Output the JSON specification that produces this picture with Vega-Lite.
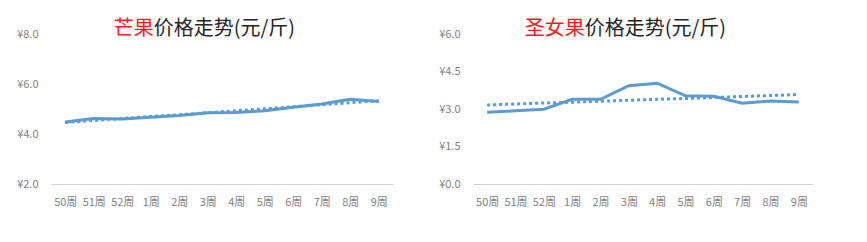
{
  "$schema": "https://vega.github.io/schema/vega-lite/v6.json",
  "background": "white",
  "padding": {"top": 19, "left": 16, "right": 5, "bottom": 5},
  "spacing": 45,
  "data": {"values": [
    {"week": "50周", "mango": 4.48, "mango_trend": 4.46, "tomato": 2.87, "tomato_trend": 3.16},
    {"week": "51周", "mango": 4.62, "mango_trend": 4.54, "tomato": 2.93, "tomato_trend": 3.20},
    {"week": "52周", "mango": 4.60, "mango_trend": 4.62, "tomato": 2.99, "tomato_trend": 3.24},
    {"week": "1周", "mango": 4.67, "mango_trend": 4.70, "tomato": 3.39, "tomato_trend": 3.27},
    {"week": "2周", "mango": 4.74, "mango_trend": 4.77, "tomato": 3.39, "tomato_trend": 3.31},
    {"week": "3周", "mango": 4.85, "mango_trend": 4.85, "tomato": 3.93, "tomato_trend": 3.35},
    {"week": "4周", "mango": 4.86, "mango_trend": 4.93, "tomato": 4.03, "tomato_trend": 3.39},
    {"week": "5周", "mango": 4.93, "mango_trend": 5.01, "tomato": 3.53, "tomato_trend": 3.42},
    {"week": "6周", "mango": 5.07, "mango_trend": 5.09, "tomato": 3.51, "tomato_trend": 3.46},
    {"week": "7周", "mango": 5.20, "mango_trend": 5.17, "tomato": 3.23, "tomato_trend": 3.50},
    {"week": "8周", "mango": 5.39, "mango_trend": 5.25, "tomato": 3.32, "tomato_trend": 3.54},
    {"week": "9周", "mango": 5.30, "mango_trend": 5.33, "tomato": 3.28, "tomato_trend": 3.58}
  ]},
  "hconcat": [
    {
      "width": 342,
      "height": 150,
      "title": {"text": "芒果", "subtitle": "\u200b\u3000\u3000价格走势(元/斤)", "anchor": "start", "frame": "bounds", "align": "left", "dx": 97},
      "encoding": {
        "x": {"field": "week", "type": "ordinal", "sort": null, "axis": {"title": null, "labelAngle": 0}}
      },
      "layer": [
        {"mark": {"type": "line", "color": "#5b9bd5", "strokeWidth": 3, "strokeDash": [3, 3]},
         "encoding": {"y": {"field": "mango_trend", "type": "quantitative", "scale": {"domain": [2, 8]},
           "axis": {"title": null, "values": [2, 4, 6, 8], "labelOverlap": false, "labelExpr": "'¥' + format(datum.value, '.1f')"}}}},
        {"mark": {"type": "line", "color": "#5b9bd5", "strokeWidth": 3},
         "encoding": {"y": {"field": "mango", "type": "quantitative",
           "axis": {"title": null, "values": [2, 4, 6, 8], "labelOverlap": false, "labelExpr": "'¥' + format(datum.value, '.1f')"}}}}
      ]
    },
    {
      "width": 340,
      "height": 150,
      "title": {"text": "圣女果", "subtitle": "\u200b\u3000\u3000\u3000价格走势(元/斤)", "anchor": "start", "frame": "bounds", "align": "left", "dx": 86},
      "encoding": {
        "x": {"field": "week", "type": "ordinal", "sort": null, "axis": {"title": null, "labelAngle": 0}}
      },
      "layer": [
        {"mark": {"type": "line", "color": "#5b9bd5", "strokeWidth": 3, "strokeDash": [3, 3]},
         "encoding": {"y": {"field": "tomato_trend", "type": "quantitative", "scale": {"domain": [0, 6]},
           "axis": {"title": null, "values": [0, 1.5, 3, 4.5, 6], "labelOverlap": false, "labelExpr": "'¥' + format(datum.value, '.1f')"}}}},
        {"mark": {"type": "line", "color": "#5b9bd5", "strokeWidth": 3},
         "encoding": {"y": {"field": "tomato", "type": "quantitative",
           "axis": {"title": null, "values": [0, 1.5, 3, 4.5, 6], "labelOverlap": false, "labelExpr": "'¥' + format(datum.value, '.1f')"}}}}
      ]
    }
  ],
  "config": {
    "font": "Noto Sans CJK SC",
    "view": {"stroke": null},
    "title": {"font": "Noto Sans CJK SC", "fontSize": 20, "fontWeight": "normal", "color": "#ff1a1a",
      "subtitleFont": "Noto Sans CJK SC", "subtitleFontSize": 20, "subtitleColor": "#262626", "subtitlePadding": -20, "offset": -11},
    "axis": {"grid": false, "ticks": false, "labelOverlap": false, "labelFont": "Noto Sans CJK SC", "labelFontSize": 11, "labelColor": "#7f7f7f"},
    "axisY": {"domain": false, "labelPadding": 13},
    "axisX": {"domain": true, "domainColor": "#d0d0d0", "domainWidth": 1, "labelPadding": 12}
  }
}
